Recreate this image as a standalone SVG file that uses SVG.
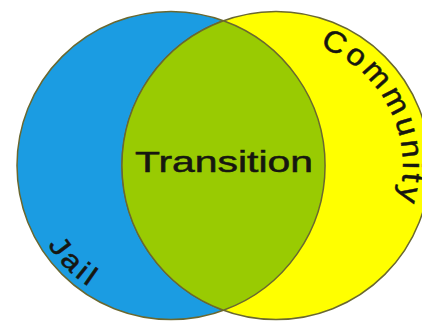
<svg xmlns="http://www.w3.org/2000/svg" xmlns:xlink="http://www.w3.org/1999/xlink" width="422" height="321" viewBox="0 0 422 321">
  <style>
    .edge { stroke: #6a6830; stroke-width: 1.5; }
    .lbl { font-family: "Liberation Sans", Arial, sans-serif; fill: #161610; stroke: #161610; stroke-width: 0.5; }
  </style>
  <defs>
    <path id="jailArc" d="M 47.7 245.1 A 147 147 0 0 0 102 294.8"/>
    <path id="commArc" d="M 319.4 46.7 A 127 127 0 0 1 395.3 209.4"/>
  </defs>
  <rect width="422" height="321" fill="#ffffff"/>
  <g id="jail">
    <circle class="edge" cx="171" cy="165.5" r="154" fill="#1b9ce2"/>
    <text class="lbl" font-size="28" letter-spacing="3"><textPath xlink:href="#jailArc" href="#jailArc" textLength="62" lengthAdjust="spacingAndGlyphs">Jail</textPath></text>
  </g>
  <g id="community">
    <circle class="edge" cx="276" cy="165.5" r="154" fill="#ffff00"/>
    <text class="lbl" font-size="30" letter-spacing="3"><textPath xlink:href="#commArc" href="#commArc" textLength="193" lengthAdjust="spacingAndGlyphs">Community</textPath></text>
  </g>
  <g id="transition">
    <path class="edge" d="M 223.5 20.7 A 154 154 0 0 1 223.5 310.3 A 154 154 0 0 1 223.5 20.7 Z" fill="#99cb02"/>
    <text class="lbl" x="135" y="172" font-size="30" textLength="178" lengthAdjust="spacingAndGlyphs">Transition</text>
  </g>
</svg>
